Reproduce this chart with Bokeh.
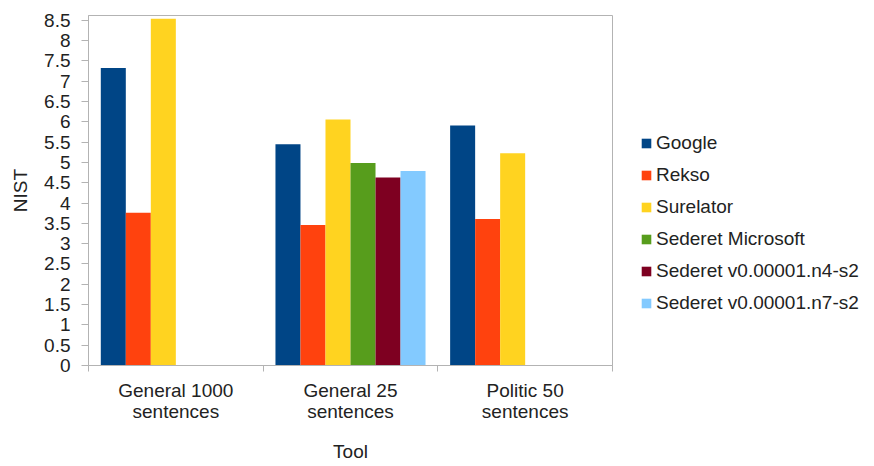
import numpy as np
from bokeh.plotting import figure
from bokeh.models import FixedTicker, Legend, LegendItem, Range1d, ColumnDataSource
from bokeh.embed import file_html
from bokeh.resources import INLINE

categories = ["General 1000\nsentences", "General 25\nsentences", "Politic 50\nsentences"]
series = ["Google", "Rekso", "Surelator", "Sederet Microsoft",
          "Sederet v0.00001.n4-s2", "Sederet v0.00001.n7-s2"]
colors = ["#004586", "#ff420e", "#ffd320", "#579d1c", "#7e0021", "#83caff"]
google = [7.33, 5.45, 5.91]
rekso = [3.76, 3.46, 3.61]
surelator = [8.54, 6.06, 5.23]
sederet_ms = [None, 4.99, None]
sederet_n4 = [None, 4.63, None]
sederet_n7 = [None, 4.79, None]
values = [google, rekso, surelator, sederet_ms, sederet_n4, sederet_n7]
y_ticks = [i * 0.5 for i in range(18)]

FONT = "Liberation Sans"
TXT = "#222222"
GRAY = "#b3b3b3"
FS = "19px"

p = figure(output_backend="svg", toolbar_location=None,
           width=874, height=466,
           frame_width=524, frame_height=350,
           min_border_left=88, min_border_right=262,
           min_border_top=15, min_border_bottom=101,
           x_range=Range1d(0, 3), y_range=Range1d(0, 8.62))

slot = 0.1432
margin = (1 - 6 * slot) / 2
items = []
for j, (name, vals, col) in enumerate(zip(series, values, colors)):
    xs, tops = [], []
    for i, v in enumerate(vals):
        if v is not None:
            xs.append(i + margin + (j + 0.5) * slot)
            tops.append(v)
    src = ColumnDataSource(dict(x=xs, top=tops))
    r = p.vbar(x="x", top="top", width=slot, bottom=0, source=src,
               fill_color=col, line_color=None)
    items.append(LegendItem(label=name, renderers=[r]))

legend = Legend(items=items, location=(28, 50), padding=0, margin=0,
                glyph_width=12, glyph_height=12, label_standoff=4,
                spacing=8, label_height=24,
                label_text_font=FONT, label_text_font_size=FS,
                label_text_color=TXT, border_line_color=None,
                background_fill_alpha=0)
p.add_layout(legend, "right")

p.xgrid.visible = False
p.ygrid.visible = False
p.outline_line_color = GRAY
p.outline_line_width = 1

# y axis
ya = p.yaxis[0]
ya.ticker = FixedTicker(ticks=y_ticks)
ya.minor_tick_line_color = None
ya.major_tick_in = 0
ya.major_tick_out = 7
ya.major_tick_line_color = GRAY
ya.axis_line_color = GRAY
ya.major_label_standoff = 11
ya.major_label_text_font = FONT
ya.major_label_text_font_size = FS
ya.major_label_text_color = TXT
ya.axis_label = "NIST"
ya.axis_label_text_font = FONT
ya.axis_label_text_font_size = FS
ya.axis_label_text_font_style = "normal"
ya.axis_label_text_color = TXT
ya.axis_label_standoff = 10
ya.major_label_overrides = {t: (str(int(t)) if t == int(t) else str(t)) for t in y_ticks}

# x axis
xa = p.xaxis[0]
xa.ticker = FixedTicker(ticks=[0.5, 1.5, 2.5], minor_ticks=[0, 1, 2, 3])
xa.major_label_overrides = {0.5: categories[0], 1.5: categories[1], 2.5: categories[2]}
xa.major_tick_in = 0
xa.major_tick_out = 0
xa.minor_tick_in = 0
xa.minor_tick_out = 6
xa.minor_tick_line_color = GRAY
xa.axis_line_color = GRAY
xa.major_label_standoff = 8
xa.major_label_text_font = FONT
xa.major_label_text_font_size = FS
xa.major_label_text_line_height = 1.0
xa.major_label_text_color = TXT
xa.axis_label = "Tool"
xa.axis_label_text_font = FONT
xa.axis_label_text_font_size = FS
xa.axis_label_text_font_style = "normal"
xa.axis_label_text_color = TXT
xa.axis_label_standoff = 16

open("out.html", "w").write(file_html(p, INLINE))
